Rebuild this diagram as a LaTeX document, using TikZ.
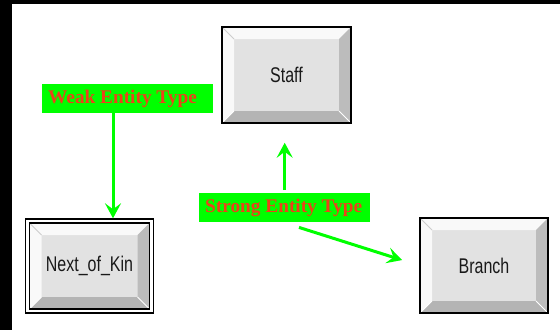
\documentclass[tikz,border=0pt]{standalone}
\usepackage{fontspec}
\setmainfont{Liberation Serif}
\setsansfont{Liberation Sans}
\usetikzlibrary{arrows.meta,calc,fit}

\definecolor{lime}{RGB}{0,255,0}
\definecolor{tagred}{RGB}{236,66,26}
\definecolor{face}{RGB}{226,226,226}
\definecolor{bevhi}{RGB}{249,249,249}
\definecolor{bevright}{RGB}{188,188,188}
\definecolor{bevbottom}{RGB}{180,180,180}
\definecolor{bevline}{RGB}{205,205,205}

\tikzset{
  % raised, bevelled entity box
  entity/.style={draw=black, line width=1.5pt, fill=face, inner sep=0pt,
    font=\sffamily\fontsize{16}{18}\selectfont, text=black!90,
    path picture={
      \path (path picture bounding box.north west) coordinate (pnw)
            (path picture bounding box.south east) coordinate (pse)
            (pnw -| pse) coordinate (pne)
            (pnw |- pse) coordinate (psw);
      \fill[bevhi] (pnw) -- (pne) -- ($(pne)+(-12pt,-12pt)$) -- ($(pnw)+(12pt,-12pt)$) -- cycle;
      \fill[bevhi] (pnw) -- ($(pnw)+(12pt,-12pt)$) -- ($(psw)+(12pt,12pt)$) -- (psw) -- cycle;
      \fill[bevright] (pne) -- (pse) -- ($(pse)+(-12pt,12pt)$) -- ($(pne)+(-12pt,-12pt)$) -- cycle;
      \fill[bevbottom] (psw) -- (pse) -- ($(pse)+(-12pt,12pt)$) -- ($(psw)+(12pt,12pt)$) -- cycle;
      \draw[bevline, line width=0.8pt] (pnw) -- ++(12pt,-12pt);
      \draw[white, line width=0.8pt] (pse) -- ++(-12pt,12pt);
      \draw[white, line width=0.8pt] (psw) -- ++(12pt,12pt);
    }},
  frame/.style={draw=black, line width=1.5pt, inner sep=3.2pt},
  tag/.style={fill=lime, anchor=north west, inner xsep=6pt, inner ysep=0pt,
    minimum height=29pt, text=tagred,
    font=\bfseries\fontsize{19.3}{22}\selectfont},
  link/.style={draw=lime, line width=3pt,
    -{Stealth[length=15pt,width=16pt,inset=6pt]}}
}

\newcommand\tall[1]{\scalebox{1}[1.33]{#1}}
\newcommand\tagtext[1]{\makebox[159pt][l]{#1}}

\begin{document}
\begin{tikzpicture}[x=1pt, y=-1pt]
  \useasboundingbox (0,0) rectangle (560,330);
  \fill[white] (0,0) rectangle (560,330);
  % dark page edges
  \fill[black] (0,0) rectangle (560,4);
  \fill[black] (0,0) rectangle (12,330);

  % entities
  \node[entity, minimum width=129pt, minimum height=96pt] (staff) at (286.5,75) {\tall{Staff}};
  \node[entity, minimum width=128pt, minimum height=95pt] (branch) at (484,265.5) {\tall{Branch}};
  \node[entity, minimum width=120pt, minimum height=86pt] (kin) at (89.5,266) {\tall{Next\_of\_Kin}};
  \node[frame, fit=(kin)] (kinframe) {};

  % labels
  \node[tag] (weak) at (42,84) {\tagtext{Weak Entity Type}};
  \node[tag] (strong) at (199,193) {\tagtext{Strong Entity Type}};

  % connectors
  \draw[link] ([xshift=71pt]weak.south west) -- ([xshift=71pt]weak.south west |- kinframe.north);
  \draw[link, shorten <=3pt, shorten >=19pt] (strong.north) -- (strong.north |- staff.south);
  \draw[link, shorten >=18pt] ([xshift=100pt,yshift=-5pt]strong.south west) -- (branch.west);
\end{tikzpicture}
\end{document}
